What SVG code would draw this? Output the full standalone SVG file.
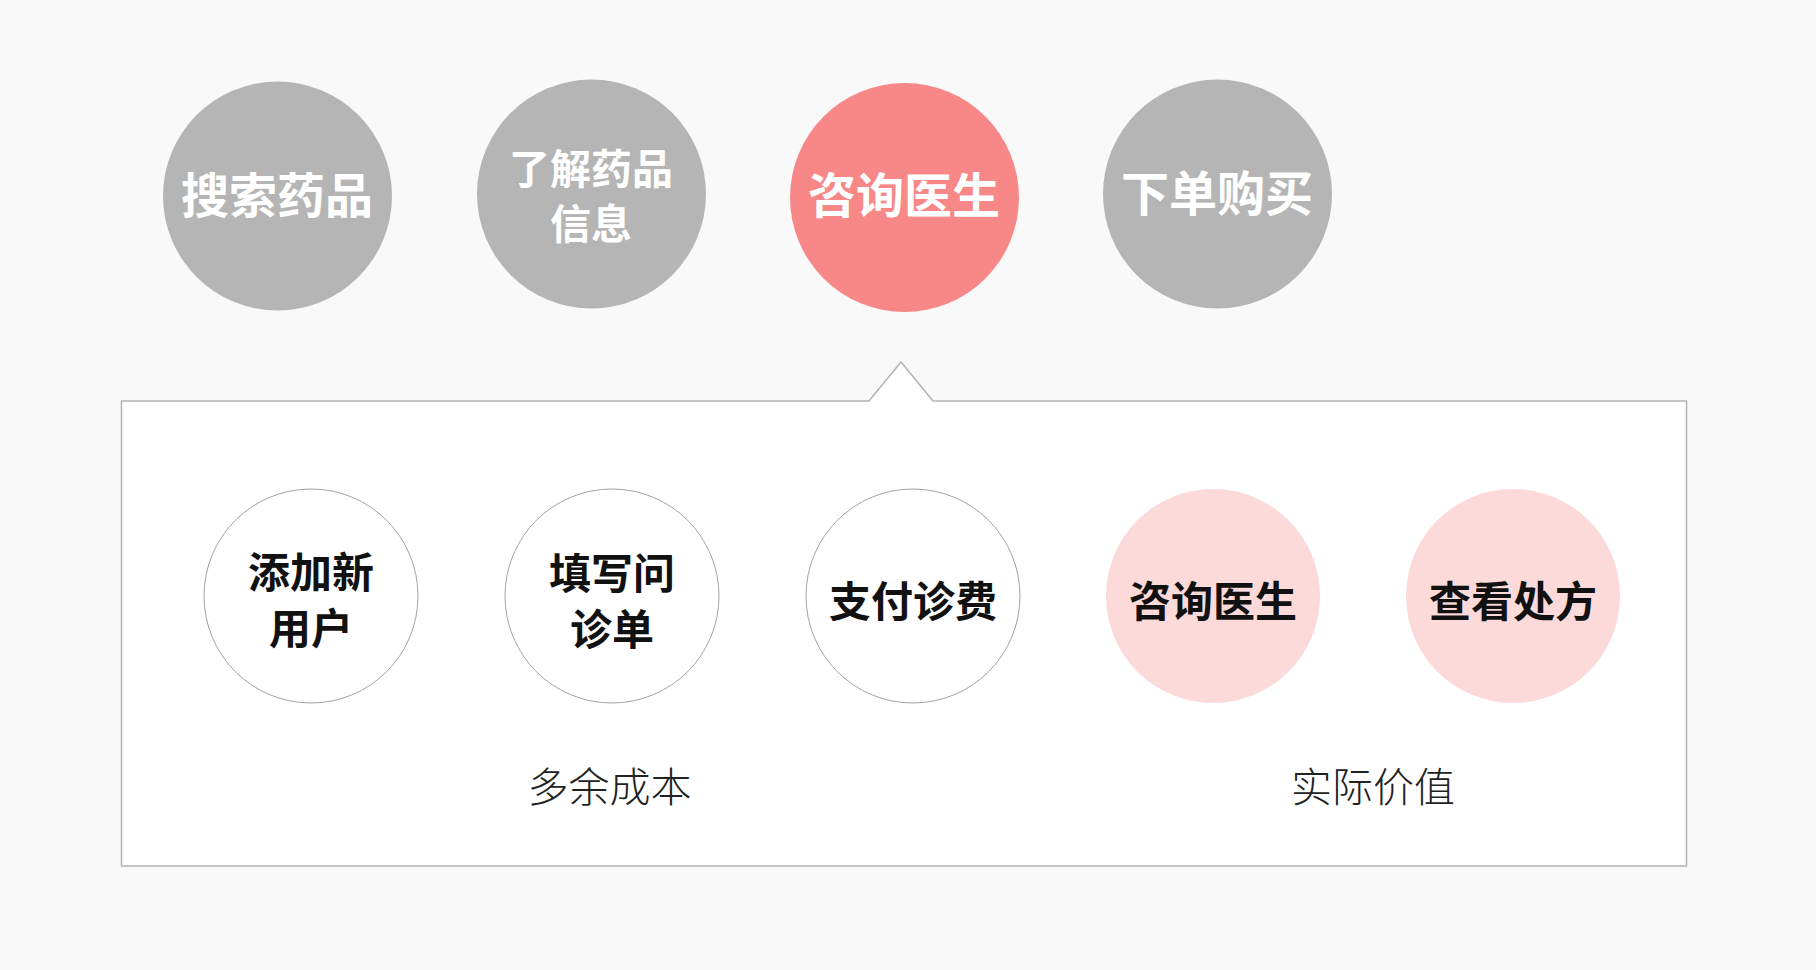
<svg xmlns="http://www.w3.org/2000/svg" width="1816" height="970" viewBox="0 0 1816 970">
  <style>
    .t { font-family: "Noto Sans CJK SC", "Noto Sans", sans-serif; text-anchor: middle; }
    .top { fill: #ffffff; font-weight: 700; }
    .sub { fill: #111111; font-weight: 700; }
    .lbl { fill: #222222; font-weight: 300; font-size: 41px; }
    .gray { fill: #b5b5b5; }
    .red { fill: #f78887; }
    .pink { fill: #fbdad9; }
    .white { fill: #ffffff; stroke: #a3a3a3; stroke-width: 1; }
  </style>
  <rect x="0" y="0" width="1816" height="970" fill="#f9f9f9"/>

  <g id="step-search">
    <circle class="gray" cx="277.5" cy="196" r="114.5"/>
    <text class="t top" x="277" y="213" font-size="48">搜索药品</text>
  </g>
  <g id="step-info">
    <circle class="gray" cx="591.5" cy="194" r="114.5"/>
    <text class="t top" font-size="41"><tspan x="591" y="184">了解药品</tspan><tspan x="591" y="238.5">信息</tspan></text>
  </g>
  <g id="step-consult">
    <circle class="red" cx="904.5" cy="197.5" r="114.5"/>
    <text class="t top" x="904" y="213" font-size="48">咨询医生</text>
  </g>
  <g id="step-order">
    <circle class="gray" cx="1217.5" cy="194" r="114.5"/>
    <text class="t top" x="1217" y="211" font-size="48">下单购买</text>
  </g>

  <g id="detail-panel">
    <path d="M121.5,401 H869 L901,362 L933,401 H1686.5 V866 H121.5 Z" fill="#ffffff" stroke="#b3b3b3" stroke-width="1.5"/>
  </g>

  <g id="sub-add-user">
    <circle class="white" cx="311" cy="596" r="107"/>
    <text class="t sub" font-size="42"><tspan x="311" y="588">添加新</tspan><tspan x="311" y="644">用户</tspan></text>
  </g>
  <g id="sub-fill-form">
    <circle class="white" cx="612" cy="596" r="107"/>
    <text class="t sub" font-size="42"><tspan x="612" y="588.5">填写问</tspan><tspan x="612" y="644.5">诊单</tspan></text>
  </g>
  <g id="sub-pay">
    <circle class="white" cx="913" cy="596" r="107"/>
    <text class="t sub" x="913" y="616.5" font-size="42">支付诊费</text>
  </g>
  <g id="sub-consult">
    <circle class="pink" cx="1213" cy="596" r="107"/>
    <text class="t sub" x="1213" y="616.5" font-size="42">咨询医生</text>
  </g>
  <g id="sub-prescription">
    <circle class="pink" cx="1513" cy="596" r="107"/>
    <text class="t sub" x="1513" y="616.5" font-size="42">查看处方</text>
  </g>

  <g id="label-cost">
    <text class="t lbl" x="609.5" y="801.5">多余成本</text>
  </g>
  <g id="label-value">
    <text class="t lbl" x="1373" y="801.5">实际价值</text>
  </g>

  <g id="connectors"></g>
</svg>
